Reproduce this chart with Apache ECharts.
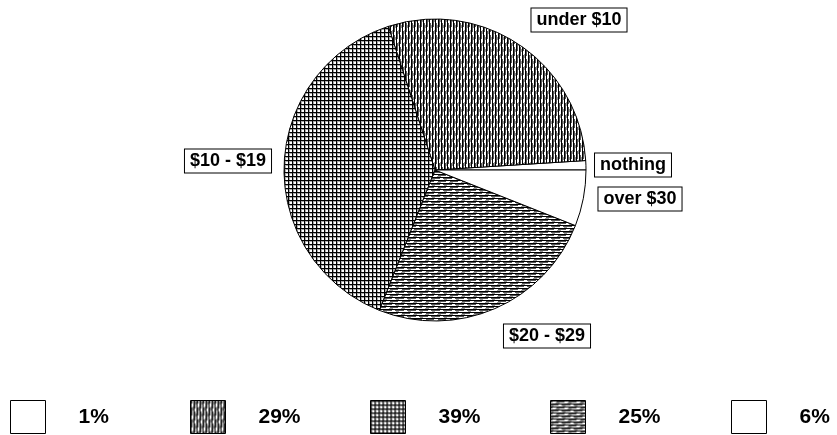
<!DOCTYPE html>
<html>
<head>
<meta charset="utf-8">
<style>
  html, body { margin: 0; padding: 0; background: #fff; }
  #chart { width: 837px; height: 435px; }
</style>
<script src="https://cdn.jsdelivr.net/npm/echarts@6/dist/echarts.min.js"></script>
</head>
<body>
<div id="chart"></div>
<script>
// Spending categories and their shares (percent)
const categories = ['nothing', 'under $10', '$10 - $19', '$20 - $29', 'over $30'];
const shares = [1, 29, 39, 25, 6];

// Fill style per slice
const fillKinds = ['blank', 'vertical', 'grid', 'horizontal', 'blank'];

// Where each boxed slice label sits (centre of the box, px)
const labelSpots = [[633, 165], [579, 20], [228, 161], [547, 336], [640, 199]];

// Left edge of each legend entry (px)
const legendLefts = [10, 190, 370, 550, 731];

function makePattern(kind) {
  if (kind === 'blank') return '#ffffff';
  const c = document.createElement('canvas');
  const ctx = c.getContext('2d');
  if (kind === 'vertical') {
    // vertical hatching, 3px pitch, with grey streaks
    c.width = 6; c.height = 12;
    ctx.fillStyle = '#fff'; ctx.fillRect(0, 0, 6, 12);
    ctx.fillStyle = '#000';
    ctx.fillRect(0, 0, 1, 12); ctx.fillRect(3, 0, 1, 12);
    ctx.fillStyle = '#555';
    ctx.fillRect(1, 0, 1, 12); ctx.fillRect(4, 0, 1, 12);
    ctx.fillStyle = '#fff';
    ctx.fillRect(1, 3, 1, 4); ctx.fillRect(4, 8, 1, 3);
    ctx.fillStyle = '#999';
    ctx.fillRect(2, 6, 1, 4); ctx.fillRect(5, 1, 1, 3);
  } else if (kind === 'grid') {
    // cross-hatch, 4px pitch
    c.width = 4; c.height = 4;
    ctx.fillStyle = '#fff'; ctx.fillRect(0, 0, 4, 4);
    ctx.fillStyle = '#aaa'; ctx.fillRect(0, 1, 4, 1); ctx.fillRect(1, 0, 1, 4);
    ctx.fillStyle = '#000'; ctx.fillRect(0, 0, 4, 1); ctx.fillRect(0, 0, 1, 4);
  } else if (kind === 'horizontal') {
    // horizontal hatching, 3px pitch, with grey streaks
    c.width = 12; c.height = 6;
    ctx.fillStyle = '#fff'; ctx.fillRect(0, 0, 12, 6);
    ctx.fillStyle = '#000';
    ctx.fillRect(0, 0, 12, 1); ctx.fillRect(0, 3, 12, 1);
    ctx.fillStyle = '#555';
    ctx.fillRect(0, 1, 12, 1); ctx.fillRect(0, 4, 12, 1);
    ctx.fillStyle = '#fff';
    ctx.fillRect(2, 1, 4, 1); ctx.fillRect(8, 4, 3, 1);
    ctx.fillStyle = '#999';
    ctx.fillRect(5, 2, 4, 1); ctx.fillRect(0, 5, 3, 1);
  }
  return { image: c, repeat: 'repeat' };
}

const chart = echarts.init(document.getElementById('chart'), null, { renderer: 'canvas' });

const seriesData = categories.map((name, i) => ({
  name: name,
  value: shares[i],
  itemStyle: { color: makePattern(fillKinds[i]) }
}));

const legends = categories.map((name, i) => ({
  data: [name],
  left: legendLefts[i],
  top: 400,
  padding: 0,
  orient: 'horizontal',
  selectedMode: false,
  icon: 'rect',
  itemWidth: 35,
  itemHeight: 33,
  itemGap: 0,
  itemStyle: { borderColor: '#000', borderWidth: 1 },
  formatter: () => shares[i] + '%',
  textStyle: {
    fontFamily: 'Liberation Sans, Arial, sans-serif',
    fontWeight: 'bold',
    fontSize: 21,
    color: '#000',
    padding: [0, 0, 0, 28]
  }
}));

chart.setOption({
  backgroundColor: '#ffffff',
  animation: false,
  legend: legends,
  series: [{
    type: 'pie',
    center: [435, 170],
    radius: 151,
    startAngle: 0,
    clockwise: false,
    avoidLabelOverlap: false,
    itemStyle: { borderColor: '#000', borderWidth: 1 },
    emphasis: { disabled: true },
    label: {
      show: true,
      position: 'outside',
      formatter: '{b}',
      fontFamily: 'Liberation Sans, Arial, sans-serif',
      fontWeight: 'bold',
      fontSize: 18,
      color: '#000',
      backgroundColor: '#fff',
      borderColor: '#000',
      borderWidth: 1,
      padding: [3, 5, 2, 5]
    },
    labelLine: { show: false },
    labelLayout: function (params) {
      const p = labelSpots[params.dataIndex];
      return { x: p[0], y: p[1], align: 'center', verticalAlign: 'middle' };
    },
    data: seriesData
  }]
});
</script>
</body>
</html>
